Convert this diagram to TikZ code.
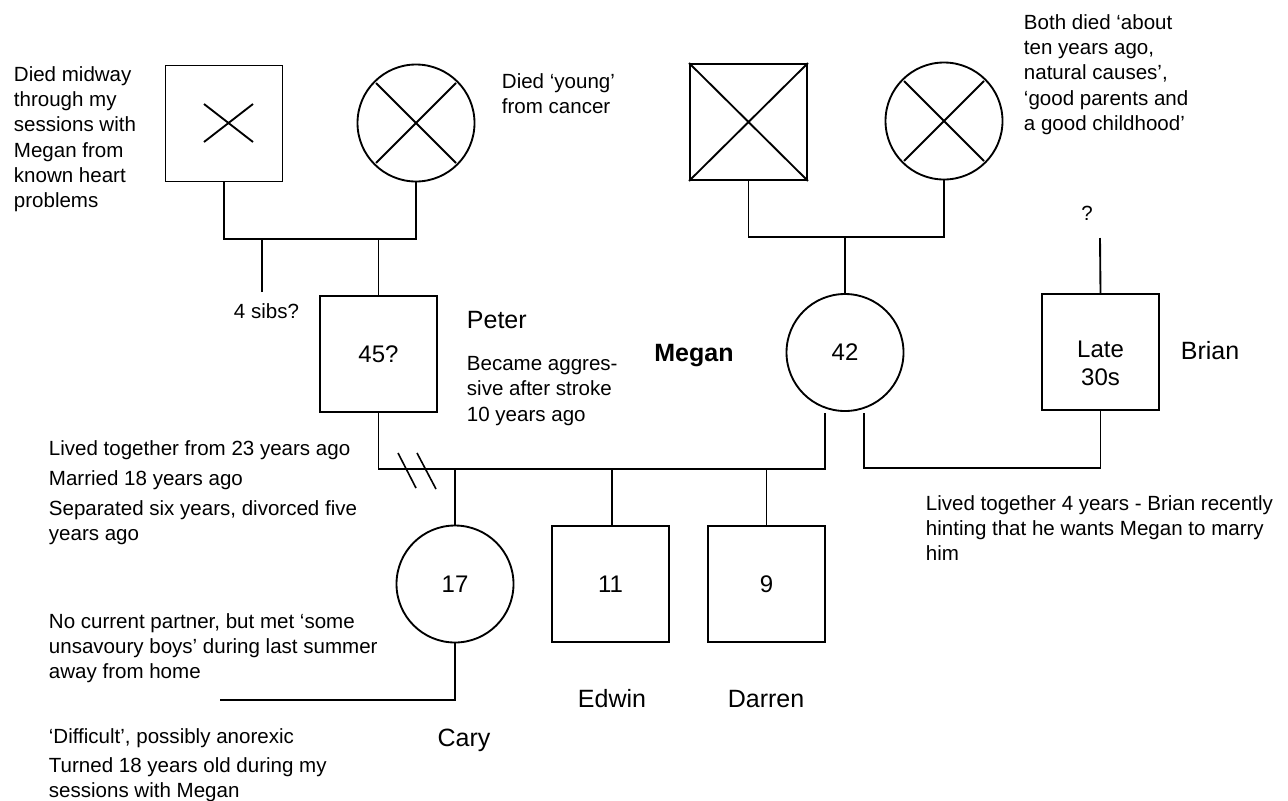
\documentclass[tikz,border=0pt]{standalone}
\usepackage{fontspec}
\setmainfont{Liberation Sans}
% type sizes for the genogram
\newcommand\notesize{\fontsize{15.4pt}{19pt}\selectfont}
\newcommand\namesize{\fontsize{18.75pt}{22pt}\selectfont}
\newcommand\agesize{\fontsize{18pt}{21pt}\selectfont}
\begin{document}
\begin{tikzpicture}[x=0.75pt,y=-0.75pt,line width=1.4pt,
  male/.style={draw,rectangle,minimum width=87.75pt,minimum height=87pt,inner sep=0pt,font=\agesize},
  female/.style={draw,circle,minimum size=87.75pt,inner sep=0pt,font=\agesize},
  note/.style={anchor=north west,align=left,inner sep=0pt,font=\notesize},
  pname/.style={anchor=base,inner sep=0pt,font=\namesize},
  age/.style={inner sep=0pt,font=\agesize},
  kin/.style={line width=1.4pt},
  cut/.style={line width=1.2pt}]
\useasboundingbox (0,0) rectangle (1288,800);
\fill[white] (0,0) rectangle (1288,800);

% ---- grandparents (Peter's side) ----
\node[male] (pfather) at (224,123.5) {};
\node[female] (pmother) at (416,123) {};
\draw[kin] (204,104) -- (253,142) (204,142) -- (253,104);
\draw[kin] (376,83) -- (456,163) (376,163) -- (456,83);

% ---- grandparents (Megan's side) ----
\node[male] (mfather) at (748.5,122) {};
\node[female] (mmother) at (944,121) {};
\draw[kin] (mfather.north west) -- (mfather.south east)
           (mfather.south west) -- (mfather.north east);
\draw[kin] (904,81) -- (984,161) (904,161) -- (984,81);

% ---- parents' generation ----
\node[male] (peter) at (378.5,354) {45?};
\node[female] (megan) at (845,352.5) {42};
\node[male] (brian) at (1100.5,352) {};
\node[age,align=center] (brianage) at ([yshift=-8.25pt]brian.center) {Late\\30s};

% ---- children ----
\node[female] (cary) at (455,584) {17};
\node[male] (edwin) at (610.5,584) {11};
\node[male] (darren) at (766.5,584) {9};

% ---- join points ----
\coordinate (pbar) at (320,239);
\coordinate (psib) at (262,292);
\coordinate (mbar) at (845,237);
\coordinate (bq) at (1100,238);
\coordinate (pmbar) at (600,469);
\coordinate (mbbar) at (980,468);
\coordinate (carytail) at (220,700);

% ---- connectors ----
\draw[kin] (pfather.south) |- (pbar) -| (pmother.south);
\draw[kin] (psib) -- (psib |- pbar);
\draw[kin] (peter.north) -- (peter.north |- pbar);
\draw[kin] (mfather.south) |- (mbar) -| (mmother.south);
\draw[kin] (megan.north) -- (megan.north |- mbar);
\draw[kin] (bq) -- (brian.north);
\draw[kin] (peter.south) |- (pmbar) -| ([xshift=-15pt,yshift=-1pt]megan.south);
\draw[kin] (cary.north) -- (cary.north |- pmbar);
\draw[kin] ([xshift=1pt]edwin.north) -- ([xshift=1pt]edwin.north |- pmbar);
\draw[kin] (darren.north) -- (darren.north |- pmbar);
\draw[kin] ([xshift=14.25pt,yshift=-1pt]megan.south) |- (mbbar) -| (brian.south);
\draw[kin] (cary.south) |- (carytail);
% divorce marks
\draw[cut] (398,453) -- (416,488) (417,453) -- (436,489);

% ---- names ----
\node[pname] (petername) at (466,328) [anchor=base west] {Peter};
\node[pname,font=\namesize\bfseries] (meganname) at (694,361) {Megan};
\node[pname] (brianname) at (1180,359) [anchor=base west] {Brian};
\node[pname] (edwinname) at (612,707) {Edwin};
\node[pname] (darrenname) at (766,707) {Darren};
\node[pname] (caryname) at (464,746) {Cary};

% ---- notes ----
\node[note] (n1) at (13,65.5) {Died midway\\through my\\sessions with\\Megan from\\known heart\\problems};
\node[note] (n2) at (501,72.5) {Died ‘young’\\from cancer};
\node[note] (n3) at (1023,13.5) {Both died ‘about\\ten years ago,\\natural causes’,\\‘good parents and\\a good childhood’};
\node[note] (n4) at (233,302.5) {4 sibs?};
\node[note] (n5) at (466,355.5) {Became aggres-\\sive after stroke\\10 years ago};
\node[font=\notesize,inner sep=0pt] (n6) at (1087,213) {?};
\node[note] (n7) at (48,439.5) {Lived together from 23 years ago};
\node[note] (n8) at (48,469.5) {Married 18 years ago};
\node[note] (n9) at (48,499.5) {Separated six years, divorced five\\years ago};
\node[note] (n10) at (925,494.5) {Lived together 4 years - Brian recently\\hinting that he wants Megan to marry\\him};
\node[note] (n11) at (48,612.5) {No current partner, but met ‘some\\unsavoury boys’ during last summer\\away from home};
\node[note] (n12) at (48,727.5) {‘Difficult’, possibly anorexic};
\node[note] (n13) at (48,756.5) {Turned 18 years old during my\\sessions with Megan};
\end{tikzpicture}
\end{document}
